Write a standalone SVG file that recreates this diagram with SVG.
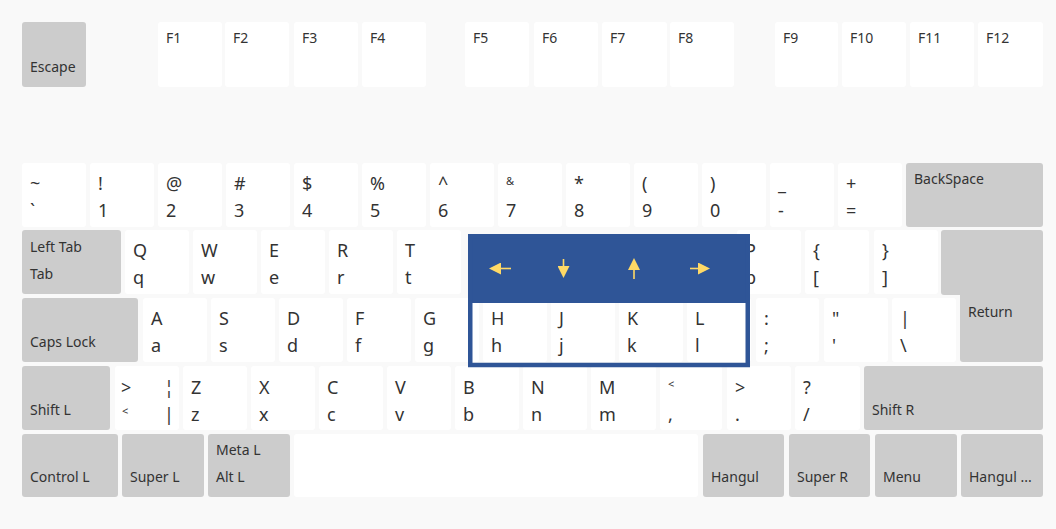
<svg xmlns="http://www.w3.org/2000/svg" width="1056" height="529" viewBox="0 0 1056 529">
<defs>
<style>
.k{fill:#ffffff}
.m{fill:#cccccc}
.t{font-family:"Noto Sans","Open Sans","DejaVu Sans",sans-serif;font-size:18px;fill:#333333}
.s{font-family:"Noto Sans","Open Sans","DejaVu Sans",sans-serif;font-size:11px;fill:#333333}
.l{font-family:"Noto Sans","Open Sans","DejaVu Sans",sans-serif;font-size:14px;fill:#333333}
.arr{stroke:#ffd966;stroke-width:1.6;fill:none}
</style>
<marker id="ah" markerUnits="userSpaceOnUse" markerWidth="12" markerHeight="12" refX="0" refY="6" orient="auto">
<path d="M0,0 L12,6 L0,12 Z" fill="#ffd966"/>
</marker>
</defs>
<rect x="0" y="0" width="1056" height="529" fill="#f9f9f9"/>

<!-- Function row -->
<g id="key-escape"><rect class="m" x="22" y="22" width="64" height="65" rx="3"/><text class="l" x="30" y="72">Escape</text></g>
<g id="key-f1"><rect class="k" x="158" y="22" width="64" height="65" rx="3"/><text class="l" x="166" y="43">F1</text></g>
<g id="key-f2"><rect class="k" x="225" y="22" width="64" height="65" rx="3"/><text class="l" x="233" y="43">F2</text></g>
<g id="key-f3"><rect class="k" x="294" y="22" width="64" height="65" rx="3"/><text class="l" x="302" y="43">F3</text></g>
<g id="key-f4"><rect class="k" x="362" y="22" width="64" height="65" rx="3"/><text class="l" x="370" y="43">F4</text></g>
<g id="key-f5"><rect class="k" x="465" y="22" width="64" height="65" rx="3"/><text class="l" x="473" y="43">F5</text></g>
<g id="key-f6"><rect class="k" x="534" y="22" width="64" height="65" rx="3"/><text class="l" x="542" y="43">F6</text></g>
<g id="key-f7"><rect class="k" x="602" y="22" width="65" height="65" rx="3"/><text class="l" x="610" y="43">F7</text></g>
<g id="key-f8"><rect class="k" x="670" y="22" width="64" height="65" rx="3"/><text class="l" x="678" y="43">F8</text></g>
<g id="key-f9"><rect class="k" x="775" y="22" width="63" height="65" rx="3"/><text class="l" x="783" y="43">F9</text></g>
<g id="key-f10"><rect class="k" x="842" y="22" width="64" height="65" rx="3"/><text class="l" x="850" y="43">F10</text></g>
<g id="key-f11"><rect class="k" x="910" y="22" width="64" height="65" rx="3"/><text class="l" x="918" y="43">F11</text></g>
<g id="key-f12"><rect class="k" x="978" y="22" width="65" height="65" rx="3"/><text class="l" x="986" y="43">F12</text></g>

<!-- Number row -->
<g id="key-tilde"><rect class="k" x="22" y="163" width="64" height="64" rx="3"/><text class="t" x="30" y="190">~</text><text class="t" x="30" y="217">`</text></g>
<g id="key-1"><rect class="k" x="90" y="163" width="64" height="64" rx="3"/><text class="t" x="98" y="190">!</text><text class="t" x="98" y="217">1</text></g>
<g id="key-2"><rect class="k" x="158" y="163" width="64" height="64" rx="3"/><text class="t" x="166" y="190">@</text><text class="t" x="166" y="217">2</text></g>
<g id="key-3"><rect class="k" x="226" y="163" width="64" height="64" rx="3"/><text class="t" x="234" y="190">#</text><text class="t" x="234" y="217">3</text></g>
<g id="key-4"><rect class="k" x="294" y="163" width="64" height="64" rx="3"/><text class="t" x="302" y="190">$</text><text class="t" x="302" y="217">4</text></g>
<g id="key-5"><rect class="k" x="362" y="163" width="64" height="64" rx="3"/><text class="t" x="370" y="190">%</text><text class="t" x="370" y="217">5</text></g>
<g id="key-6"><rect class="k" x="430" y="163" width="64" height="64" rx="3"/><text class="t" x="438" y="190">^</text><text class="t" x="438" y="217">6</text></g>
<g id="key-7"><rect class="k" x="498" y="163" width="64" height="64" rx="3"/><text class="s" x="506" y="185">&amp;</text><text class="t" x="506" y="217">7</text></g>
<g id="key-8"><rect class="k" x="566" y="163" width="64" height="64" rx="3"/><text class="t" x="574" y="190">*</text><text class="t" x="574" y="217">8</text></g>
<g id="key-9"><rect class="k" x="634" y="163" width="64" height="64" rx="3"/><text class="t" x="642" y="190">(</text><text class="t" x="642" y="217">9</text></g>
<g id="key-0"><rect class="k" x="702" y="163" width="64" height="64" rx="3"/><text class="t" x="710" y="190">)</text><text class="t" x="710" y="217">0</text></g>
<g id="key-minus"><rect class="k" x="770" y="163" width="64" height="64" rx="3"/><text class="t" x="778" y="190">_</text><text class="t" x="778" y="217">-</text></g>
<g id="key-equal"><rect class="k" x="838" y="163" width="64" height="64" rx="3"/><text class="t" x="846" y="190">+</text><text class="t" x="846" y="217">=</text></g>
<g id="key-backspace"><rect class="m" x="906" y="163" width="137" height="64" rx="3"/><text class="l" x="914" y="184">BackSpace</text></g>

<!-- Tab row -->
<g id="key-tab"><rect class="m" x="22" y="230" width="99" height="64" rx="3"/><text class="l" x="30" y="252">Left Tab</text><text class="l" x="30" y="279">Tab</text></g>
<g id="key-q"><rect class="k" x="125" y="230" width="64" height="64" rx="3"/><text class="t" x="133" y="257">Q</text><text class="t" x="133" y="284">q</text></g>
<g id="key-w"><rect class="k" x="193" y="230" width="64" height="64" rx="3"/><text class="t" x="201" y="257">W</text><text class="t" x="201" y="284">w</text></g>
<g id="key-e"><rect class="k" x="261" y="230" width="64" height="64" rx="3"/><text class="t" x="269" y="257">E</text><text class="t" x="269" y="284">e</text></g>
<g id="key-r"><rect class="k" x="329" y="230" width="64" height="64" rx="3"/><text class="t" x="337" y="257">R</text><text class="t" x="337" y="284">r</text></g>
<g id="key-t"><rect class="k" x="397" y="230" width="64" height="64" rx="3"/><text class="t" x="405" y="257">T</text><text class="t" x="405" y="284">t</text></g>
<g id="key-p"><rect class="k" x="737" y="230" width="64" height="64" rx="3"/><text class="t" x="745" y="257">P</text><text class="t" x="745" y="284">p</text></g>
<g id="key-lbrace"><rect class="k" x="805" y="230" width="64" height="64" rx="3"/><text class="t" x="813" y="257">{</text><text class="t" x="813" y="284">[</text></g>
<g id="key-rbrace"><rect class="k" x="874" y="230" width="64" height="64" rx="3"/><text class="t" x="882" y="257">}</text><text class="t" x="882" y="284">]</text></g>
<g id="key-return"><path class="m" d="M944,230 H1040 A3,3 0 0 1 1043,233 V359 A3,3 0 0 1 1040,362 H963 A3,3 0 0 1 960,359 V295 H944 A3,3 0 0 1 941,292 V233 A3,3 0 0 1 944,230 Z"/><text class="l" x="968" y="317">Return</text></g>

<!-- Caps row -->
<g id="key-capslock"><rect class="m" x="22" y="298" width="116" height="64" rx="3"/><text class="l" x="30" y="347">Caps Lock</text></g>
<g id="key-a"><rect class="k" x="143" y="298" width="64" height="64" rx="3"/><text class="t" x="151" y="325">A</text><text class="t" x="151" y="352">a</text></g>
<g id="key-s"><rect class="k" x="211" y="298" width="64" height="64" rx="3"/><text class="t" x="219" y="325">S</text><text class="t" x="219" y="352">s</text></g>
<g id="key-d"><rect class="k" x="279" y="298" width="64" height="64" rx="3"/><text class="t" x="287" y="325">D</text><text class="t" x="287" y="352">d</text></g>
<g id="key-f"><rect class="k" x="347" y="298" width="64" height="64" rx="3"/><text class="t" x="355" y="325">F</text><text class="t" x="355" y="352">f</text></g>
<g id="key-g"><rect class="k" x="415" y="298" width="64" height="64" rx="3"/><text class="t" x="423" y="325">G</text><text class="t" x="423" y="352">g</text></g>
<g id="key-h"><rect class="k" x="483" y="298" width="64" height="64" rx="3"/><text class="t" x="491" y="325">H</text><text class="t" x="491" y="352">h</text></g>
<g id="key-j"><rect class="k" x="551" y="298" width="64" height="64" rx="3"/><text class="t" x="559" y="325">J</text><text class="t" x="559" y="352">j</text></g>
<g id="key-k"><rect class="k" x="619" y="298" width="64" height="64" rx="3"/><text class="t" x="627" y="325">K</text><text class="t" x="627" y="352">k</text></g>
<g id="key-l"><rect class="k" x="687" y="298" width="64" height="64" rx="3"/><text class="t" x="695" y="325">L</text><text class="t" x="695" y="352">l</text></g>
<g id="key-colon"><rect class="k" x="756" y="298" width="63" height="64" rx="3"/><text class="t" x="764" y="325">:</text><text class="t" x="764" y="352">;</text></g>
<g id="key-quote"><rect class="k" x="824" y="298" width="64" height="64" rx="3"/><text class="t" x="832" y="325">"</text><text class="t" x="832" y="352">'</text></g>
<g id="key-backslash"><rect class="k" x="892" y="298" width="64" height="64" rx="3"/><text class="t" x="900" y="325">|</text><text class="t" x="900" y="352">\</text></g>

<!-- Shift row -->
<g id="key-shiftl"><rect class="m" x="22" y="366" width="88" height="64" rx="3"/><text class="l" x="30" y="415">Shift L</text></g>
<g id="key-less"><rect class="k" x="115" y="366" width="64" height="64" rx="3"/><text class="t" x="121" y="394">&gt;</text><text class="s" x="122" y="415">&lt;</text><text class="t" x="164" y="394">¦</text><text class="t" x="164" y="421">|</text></g>
<g id="key-z"><rect class="k" x="183" y="366" width="64" height="64" rx="3"/><text class="t" x="191" y="394">Z</text><text class="t" x="191" y="421">z</text></g>
<g id="key-x"><rect class="k" x="251" y="366" width="64" height="64" rx="3"/><text class="t" x="259" y="394">X</text><text class="t" x="259" y="421">x</text></g>
<g id="key-c"><rect class="k" x="319" y="366" width="64" height="64" rx="3"/><text class="t" x="327" y="394">C</text><text class="t" x="327" y="421">c</text></g>
<g id="key-v"><rect class="k" x="387" y="366" width="64" height="64" rx="3"/><text class="t" x="395" y="394">V</text><text class="t" x="395" y="421">v</text></g>
<g id="key-b"><rect class="k" x="455" y="366" width="64" height="64" rx="3"/><text class="t" x="463" y="394">B</text><text class="t" x="463" y="421">b</text></g>
<g id="key-n"><rect class="k" x="523" y="366" width="64" height="64" rx="3"/><text class="t" x="531" y="394">N</text><text class="t" x="531" y="421">n</text></g>
<g id="key-m"><rect class="k" x="591" y="366" width="65" height="64" rx="3"/><text class="t" x="599" y="394">M</text><text class="t" x="599" y="421">m</text></g>
<g id="key-comma"><rect class="k" x="660" y="366" width="62" height="64" rx="3"/><text class="s" x="668" y="388">&lt;</text><text class="t" x="668" y="421">,</text></g>
<g id="key-period"><rect class="k" x="727" y="366" width="64" height="64" rx="3"/><text class="t" x="735" y="394">&gt;</text><text class="t" x="735" y="421">.</text></g>
<g id="key-slash"><rect class="k" x="795" y="366" width="65" height="64" rx="3"/><text class="t" x="803" y="394">?</text><text class="t" x="803" y="421">/</text></g>
<g id="key-shiftr"><rect class="m" x="864" y="366" width="179" height="64" rx="3"/><text class="l" x="872" y="415">Shift R</text></g>

<!-- Bottom row -->
<g id="key-controll"><rect class="m" x="22" y="434" width="96" height="63" rx="3"/><text class="l" x="30" y="482">Control L</text></g>
<g id="key-superl"><rect class="m" x="122" y="434" width="82" height="63" rx="3"/><text class="l" x="130" y="482">Super L</text></g>
<g id="key-altl"><rect class="m" x="208" y="434" width="82" height="63" rx="3"/><text class="l" x="216" y="455">Meta L</text><text class="l" x="216" y="482">Alt L</text></g>
<g id="key-space"><rect class="k" x="294" y="434" width="404" height="63" rx="3"/></g>
<g id="key-hangul"><rect class="m" x="703" y="434" width="81" height="63" rx="3"/><text class="l" x="711" y="482">Hangul</text></g>
<g id="key-superr"><rect class="m" x="789" y="434" width="81" height="63" rx="3"/><text class="l" x="797" y="482">Super R</text></g>
<g id="key-menu"><rect class="m" x="875" y="434" width="82" height="63" rx="3"/><text class="l" x="883" y="482">Menu</text></g>
<g id="key-hangulhanja"><rect class="m" x="961" y="434" width="82" height="63" rx="3"/><text class="l" x="969" y="482">Hangul ...</text></g>

<!-- Highlight overlay -->
<g id="highlight">
<rect x="468" y="234" width="282" height="69" fill="#2f5597"/>
<rect x="470.25" y="236.25" width="277.5" height="128.75" fill="none" stroke="#2f5597" stroke-width="4.5"/>
</g>

<!-- Arrows -->
<g id="connectors">
<line class="arr" x1="511" y1="268.5" x2="501" y2="268.5" marker-end="url(#ah)"/>
<line class="arr" x1="563.5" y1="259" x2="563.5" y2="266" marker-end="url(#ah)"/>
<line class="arr" x1="634" y1="279" x2="634" y2="270" marker-end="url(#ah)"/>
<line class="arr" x1="690" y1="268.5" x2="698" y2="268.5" marker-end="url(#ah)"/>
</g>
</svg>
